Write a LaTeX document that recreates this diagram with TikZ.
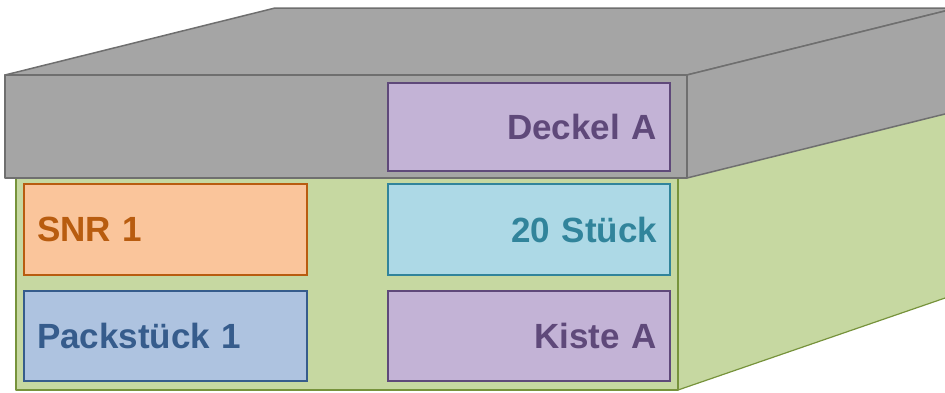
\documentclass[tikz,border=0pt]{standalone}
\usepackage{fontspec}
\setmainfont{Liberation Sans}[BoldFont={Liberation Sans Bold}]
\usetikzlibrary{calc}
\definecolor{lidfill}{HTML}{A5A5A5}
\definecolor{lidline}{HTML}{6F6F6F}
\definecolor{boxfill}{HTML}{C6D8A1}
\definecolor{boxline}{HTML}{77933C}
\definecolor{orfill}{HTML}{FAC59B}
\definecolor{orline}{HTML}{B85C0F}
\definecolor{blfill}{HTML}{AEC3E0}
\definecolor{blline}{HTML}{365C8C}
\definecolor{tqfill}{HTML}{ADD9E6}
\definecolor{tqline}{HTML}{31849B}
\definecolor{pufill}{HTML}{C3B3D6}
\definecolor{puline}{HTML}{5F497A}
\tikzset{
  tag/.style={draw, line width=2pt, minimum height=90pt, inner xsep=13pt, inner ysep=0pt,
    font=\fontsize{35}{35}\selectfont\bfseries, anchor=center},
  lefttag/.style={tag, text width=257pt, align=left},
  righttag/.style={tag, text width=256pt, align=right},
  lidface/.style={fill=lidfill, draw=lidline, line width=1.5pt, line join=round},
  boxface/.style={fill=boxfill, draw=boxline, line width=1.2pt, line join=round}
}
\begin{document}
\begin{tikzpicture}[x=1pt,y=-1pt]
\useasboundingbox (0,0) rectangle (945,392);
\clip (0,0) rectangle (945,392);
% green box
\path[boxface] (678,170) -- (948,77) -- (948,297) -- (678,390) -- cycle;
\path[boxface] (16,170) rectangle (678,390);
% grey lid
\coordinate (A) at (5,75);
\coordinate (B) at (687,75);
\coordinate (C) at (687,178);
\coordinate (D) at (5,178);
\path[lidface] (A) -- ++(270,-67) -- ($(B)+(270,-67)$) -- (B) -- cycle;
\path[lidface] (B) -- ++(270,-67) -- ($(C)+(270,-67)$) -- (C) -- cycle;
\path[lidface] (A) -- (B) -- (C) -- (D) -- cycle;
% tags
\node[righttag, fill=pufill, draw=puline, text=puline, minimum height=88pt] (deckel) at (529,127) {Deckel A};
\node[lefttag, fill=orfill, draw=orline, text=orline, minimum height=91pt] (snr) at (165.5,229.5) {SNR 1};
\node[righttag, fill=tqfill, draw=tqline, text=tqline, minimum height=91pt] (stueck) at (529,229.5) {20 Stück};
\node[lefttag, fill=blfill, draw=blline, text=blline] (pack) at (165.5,336) {Packstück 1};
\node[righttag, fill=pufill, draw=puline, text=puline] (kiste) at (529,336) {Kiste A};
\end{tikzpicture}
\end{document}
